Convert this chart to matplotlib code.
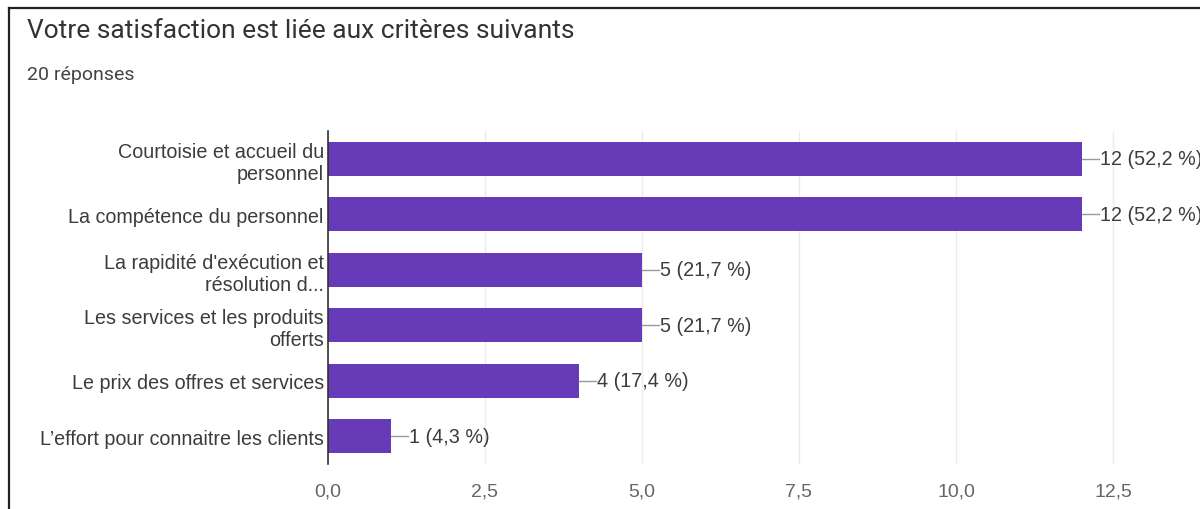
import matplotlib
matplotlib.use("Agg")
import matplotlib.pyplot as plt
from matplotlib.lines import Line2D

title = "Votre satisfaction est liée aux critères suivants"
subtitle = "20 réponses"
categories = [
    "Courtoisie et accueil du\npersonnel",
    "La compétence du personnel",
    "La rapidité d'exécution et\nrésolution d...",
    "Les services et les produits\nofferts",
    "Le prix des offres et services",
    "L’effort pour connaitre les clients",
]
counts = [12, 12, 5, 5, 4, 1]
percents = ["52,2", "52,2", "21,7", "21,7", "17,4", "4,3"]
xticks = [0.0, 2.5, 5.0, 7.5, 10.0, 12.5]
xtick_labels = ["0,0", "2,5", "5,0", "7,5", "10,0", "12,5"]

BAR = "#673ab7"
TEXT = "#3c3c3c"
LABEL_FONT = ["Liberation Sans", "DejaVu Sans"]

fig = plt.figure(figsize=(12, 5.1), dpi=100)
fig.patch.set_facecolor("white")

# frame around the card (left and top edges)
fig.add_artist(Line2D([8.5 / 1200, 8.5 / 1200], [0, 1 - 8.5 / 510],
                      color="#222222", lw=1.6, transform=fig.transFigure))
fig.add_artist(Line2D([8.5 / 1200, 1], [1 - 8.5 / 510, 1 - 8.5 / 510],
                      color="#222222", lw=1.6, transform=fig.transFigure))

fig.text(27 / 1200, 1 - 31 / 510, title, fontsize=19, color="#333333",
         family=["Roboto", "DejaVu Sans"], va="center", ha="left")
fig.text(27 / 1200, 1 - 75 / 510, subtitle, fontsize=14, color="#444444",
         family=["Roboto", "DejaVu Sans"], va="center", ha="left")

px_per_unit = 62.8
x0 = 328
xmax = 14.0
top, bottom = 132, 465
ax = fig.add_axes([x0 / 1200, 1 - bottom / 510, xmax * px_per_unit / 1200,
                   (bottom - top) / 510])

n = len(categories)
ypos = list(range(n))
ax.barh(ypos, counts, height=0.62, color=BAR, zorder=3)
ax.set_ylim(n - 0.5, -0.5)
ax.set_xlim(0, xmax)

ax.set_yticks(ypos)
ax.set_yticklabels(categories, fontsize=14.2, color=TEXT, family=LABEL_FONT,
                   ha="right", linespacing=1.2)
ax.tick_params(axis="y", length=0, pad=3)
ax.set_xticks(xticks)
ax.set_xticklabels(xtick_labels, fontsize=14, color="#666666", family=LABEL_FONT)
ax.tick_params(axis="x", length=0, pad=13)

for s in ["top", "right", "bottom"]:
    ax.spines[s].set_visible(False)
ax.spines["left"].set_color("#333333")
ax.spines["left"].set_linewidth(1.2)
ax.spines["left"].set_zorder(4)
ax.grid(axis="x", color="#ebebeb", lw=1, zorder=0)
ax.set_axisbelow(True)

# value annotations with a short leader line
for y, c, p in zip(ypos, counts, percents):
    ax.plot([c, c + 0.27], [y, y], color="#999999", lw=1, zorder=3,
            clip_on=False)
    ax.text(c + 0.29, y, f"{c} ({p} %)", fontsize=14.2, color=TEXT,
            family=LABEL_FONT, va="center", ha="left", clip_on=False)

fig.savefig("out.png", dpi=100, facecolor="white")
